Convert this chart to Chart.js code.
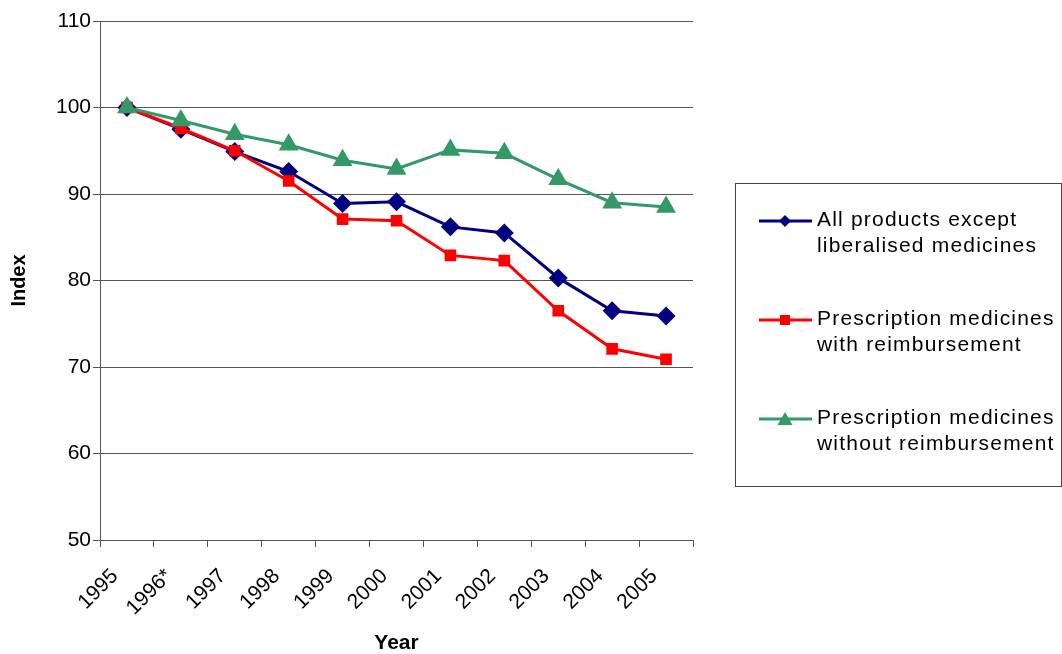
<!DOCTYPE html>
<html><head><meta charset="utf-8">
<script src="https://cdn.jsdelivr.net/npm/chart.js@4.4.1/dist/chart.umd.min.js"></script>
<style>html,body{margin:0;padding:0;background:#fff}canvas{display:block}</style>
</head><body>
<canvas id="c" width="1062" height="654"></canvas>
<script>
const categories = ['1995','1996*','1997','1998','1999','2000','2001','2002','2003','2004','2005'];
const allProducts = [100, 97.5, 94.9, 92.6, 88.9, 89.1, 86.2, 85.5, 80.3, 76.5, 75.9];
const withReimbursement = [100, 97.6, 95.0, 91.5, 87.1, 86.9, 82.9, 82.3, 76.5, 72.1, 70.9];
const withoutReimbursement = [100, 98.5, 96.9, 95.7, 93.9, 92.9, 95.1, 94.7, 91.7, 89.0, 88.5];
const seriesLabels = [
  ['All products except', 'liberalised medicines'],
  ['Prescription medicines', 'with reimbursement'],
  ['Prescription medicines', 'without reimbursement']
];
const yMin = 50, yMax = 110, yStep = 10;
const FONT = "'Liberation Sans', Arial, sans-serif";

function drawMarker(ctx, style, x, y, size) {
  ctx.beginPath();
  if (style === 'rectRot') {
    ctx.moveTo(x - size, y); ctx.lineTo(x, y - size); ctx.lineTo(x + size, y); ctx.lineTo(x, y + size);
  } else if (style === 'rect') {
    ctx.rect(x - size, y - size, size * 2, size * 2);
  } else {
    const h = size * 1.6;
    ctx.moveTo(x, y - h / 2 - 1); ctx.lineTo(x + size, y + h / 2); ctx.lineTo(x - size, y + h / 2);
  }
  ctx.closePath();
  ctx.fill();
}

const boxLegend = {
  id: 'boxLegend',
  afterDraw(chart) {
    const ctx = chart.ctx;
    ctx.save();
    ctx.strokeStyle = '#444';
    ctx.lineWidth = 1;
    ctx.strokeRect(735.5, 183.5, 326, 303);
    const legendSizes = [6, 5, 7.5];
    chart.data.datasets.forEach((ds, i) => {
      const y0 = 221 + i * 99;
      ctx.strokeStyle = ds.borderColor;
      ctx.lineWidth = 3;
      ctx.beginPath(); ctx.moveTo(759, y0); ctx.lineTo(812, y0); ctx.stroke();
      ctx.fillStyle = ds.pointBackgroundColor;
      drawMarker(ctx, ds.pointStyle, 785, y0, legendSizes[i]);
      ctx.fillStyle = '#000';
      ctx.font = '21px ' + FONT;
      ctx.textBaseline = 'middle';
      ctx.textAlign = 'left';
      try { ctx.letterSpacing = '1.2px'; } catch (e) {}
      seriesLabels[i].forEach((t, k) => ctx.fillText(t, 817, y0 - 1 + k * 26));
    });
    ctx.restore();
  }
};

new Chart(document.getElementById('c'), {
  type: 'line',
  data: {
    labels: categories,
    datasets: [
      { label: seriesLabels[0].join(' '), data: allProducts, borderColor: '#000080', backgroundColor: '#000080',
        pointBackgroundColor: '#000080', pointBorderColor: '#000080', pointStyle: 'rectRot', pointRadius: 9.5,
        pointBorderWidth: 0, borderWidth: 3, order: 2 },
      { label: seriesLabels[1].join(' '), data: withReimbursement, borderColor: '#FF0000', backgroundColor: '#FF0000',
        pointBackgroundColor: '#FF0000', pointBorderColor: '#FF0000', pointStyle: 'rect', pointRadius: 8.2,
        pointBorderWidth: 0, borderWidth: 3, order: 1 },
      { label: seriesLabels[2].join(' '), data: withoutReimbursement, borderColor: '#339966', backgroundColor: '#339966',
        pointBackgroundColor: '#339966', pointBorderColor: '#339966', pointStyle: 'triangle', pointRadius: 11.5,
        pointBorderWidth: 0, borderWidth: 3, order: 0 }
    ]
  },
  options: {
    responsive: false,
    animation: false,
    layout: { padding: { left: 0, top: 21, right: 369, bottom: 0 } },
    plugins: { legend: { display: false }, tooltip: { enabled: false } },
    scales: {
      x: {
        offset: true,
        grid: { offset: true, drawOnChartArea: false, drawTicks: true, tickLength: 7, color: '#555' },
        border: { color: '#555', width: 1 },
        ticks: { minRotation: 45, maxRotation: 45, autoSkip: false, color: '#000', font: { family: FONT, size: 21 }, padding: 17, labelOffset: -12 },
        title: { display: true, text: 'Year', color: '#000', font: { family: FONT, size: 21, weight: 'bold', lineHeight: 1 }, padding: { top: 0, bottom: 0 } },
        afterFit(s) { s.height = 114; }
      },
      y: {
        min: yMin, max: yMax,
        ticks: { stepSize: yStep, color: '#000', font: { family: FONT, size: 21 }, padding: 2 },
        grid: { color: '#555', tickLength: 7 },
        border: { color: '#555', width: 1 },
        title: { display: true, text: 'Index', color: '#000', font: { family: FONT, size: 20, weight: 'bold' }, padding: { top: 7, bottom: 0 } },
        afterFit(s) { s.width = 100; }
      }
    }
  },
  plugins: [boxLegend]
});
</script>
</body></html>
